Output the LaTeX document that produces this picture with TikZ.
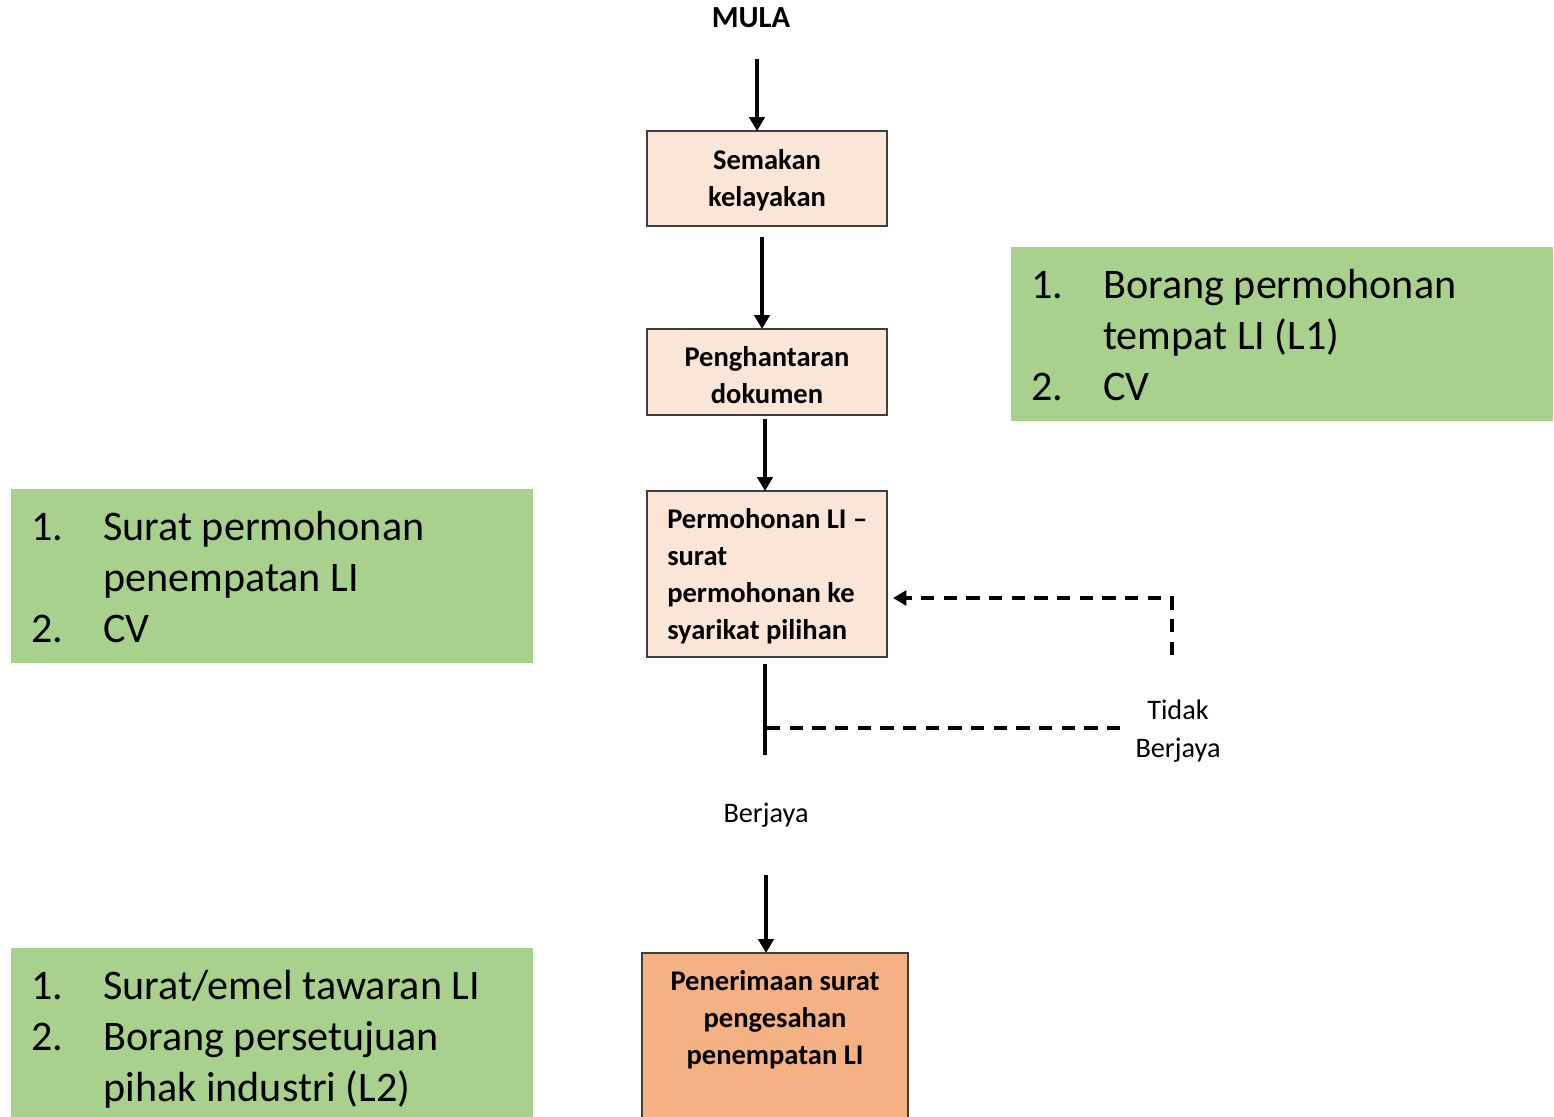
\documentclass[tikz,border=0pt]{standalone}
\usepackage{fontspec}
\setmainfont{Carlito}
\usetikzlibrary{arrows.meta}
\definecolor{peach}{HTML}{FBE5D6}
\definecolor{orangebox}{HTML}{F4B183}
\definecolor{greenbox}{HTML}{A9D18E}
\definecolor{border}{HTML}{3F3F3F}
\tikzset{
  boxbase/.style={rectangle, inner sep=0pt, outer sep=0pt, anchor=north west},
  procbox/.style={boxbase, fill=peach, draw=border, line width=1pt},
  finalbox/.style={boxbase, fill=orangebox, draw=border, line width=1pt},
  notebox/.style={boxbase, fill=greenbox},
  boxtext/.style={inner sep=0pt, font=\fontsize{21.4}{27.75}\selectfont\bfseries},
  labeltext/.style={inner sep=0pt, font=\fontsize{21.2}{28.5}\selectfont},
  notetext/.style={inner sep=0pt, anchor=base west, font=\fontsize{31.6}{38.25}\selectfont},
  flow/.style={line width=2.8pt, -{Triangle[length=10.5pt,width=11.5pt]}},
  solidline/.style={line width=2.8pt},
  fbline/.style={line width=2.6pt, dash pattern=on 10pt off 7pt},
  fbarrow/.style={fbline, -{Triangle[length=10pt,width=11pt]}},
}
\begin{document}
\begin{tikzpicture}[x=0.75pt, y=-0.75pt]
\useasboundingbox (0,0) rectangle (1554,1117);
\clip (0,0) rectangle (1554,1117);

% boxes
\node[procbox, minimum width=180pt, minimum height=71.25pt] (b1) at (647,131) {};
\node[procbox, minimum width=180pt, minimum height=64.5pt] (b2) at (647,329) {};
\node[procbox, minimum width=180pt, minimum height=124.5pt] (b3) at (647,491) {};
\node[finalbox, minimum width=199.5pt, minimum height=132.75pt] (b4) at (642,953) {};

\node[notebox, minimum width=406.5pt, minimum height=130.5pt] (gr) at (1011,247) {};
\node[notebox, minimum width=391.5pt, minimum height=130.5pt] (gl1) at (11,489) {};
\node[notebox, minimum width=391.5pt, minimum height=136.5pt] (gl2) at (11,948) {};

% texts
\node[boxtext, anchor=base, font=\fontsize{23}{27.75}\selectfont\bfseries] (mula) at (751,27) {MULA};
\node[boxtext, anchor=base] (t1) at (767,169) {\begin{tabular}[t]{@{}c@{}}Semakan\\kelayakan\end{tabular}};
\node[boxtext, anchor=base] (t2) at (767,366) {\begin{tabular}[t]{@{}c@{}}Penghantaran\\dokumen\end{tabular}};
\node[boxtext, anchor=base west] (t3) at (667,528) {\begin{tabular}[t]{@{}l@{}}Permohonan LI –\\surat\\permohonan ke\\syarikat pilihan\end{tabular}};
\node[boxtext, anchor=base] (t4) at (775,990) {\begin{tabular}[t]{@{}c@{}}Penerimaan surat\\pengesahan\\penempatan LI\end{tabular}};

\node[labeltext, anchor=base] (tidak) at (1178,719) {\begin{tabular}[t]{@{}c@{}}Tidak\\Berjaya\end{tabular}};
\node[labeltext, anchor=base] (berjaya) at (766,822) {Berjaya};

\node[notetext] (grt) at (1031,298) {\begin{tabular}[t]{@{}p{54pt}@{}l@{}}1. & Borang permohonan\\ & tempat LI (L1)\\2. & CV\end{tabular}};
\node[notetext] (gl1t) at (31,540) {\begin{tabular}[t]{@{}p{54pt}@{}l@{}}1. & Surat permohonan\\ & penempatan LI\\2. & CV\end{tabular}};
\node[notetext] (gl2t) at (31,999) {\begin{tabular}[t]{@{}p{54pt}@{}l@{}}1. & Surat/emel tawaran LI\\2. & Borang persetujuan\\ & pihak industri (L2)\end{tabular}};

% connectors
\coordinate (s1) at (757,59);
\coordinate (s2) at (762,237);
\coordinate (s3) at (765,419);
\coordinate (s4) at (765,664);
\coordinate (s4e) at (765,755);
\coordinate (s5) at (766,875);
\coordinate (split) at (767,728);
\coordinate (failend) at (1125,728);
\coordinate (fbstart) at (1172,655);
\coordinate (fbtip) at (893,598);

\draw[flow] (s1) -- (b1.north -| s1);
\draw[flow] (s2) -- (b2.north -| s2);
\draw[flow] (s3) -- (b3.north -| s3);
\draw[solidline] (s4) -- (s4e);
\draw[flow] (s5) -- (b4.north -| s5);
\draw[fbline] (split) -- (failend);
\draw[fbarrow] (fbstart) |- (fbtip);
\end{tikzpicture}
\end{document}
